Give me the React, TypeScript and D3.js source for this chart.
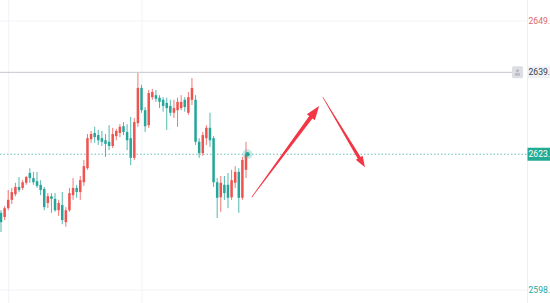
import React from "react";
import * as d3 from "d3";

const W = 550;
const H = 303;

// OHLC candles
const opens = [
  2612.5, 2611.7, 2613.4, 2615.0, 2616.1, 2617.5, 2617.3, 2618.3, 2620.2, 2619.2,
  2618.6, 2617.9, 2617.1, 2614.4, 2615.7, 2615.2, 2613.0, 2614.0, 2610.7, 2613.0,
  2615.9, 2617.3, 2616.5, 2618.4, 2621.1, 2626.7, 2627.9, 2627.5, 2626.9, 2626.5,
  2626.2, 2625.4, 2627.3, 2627.9, 2629.2, 2628.1, 2626.9, 2623.1, 2629.8, 2636.6,
  2632.3, 2629.4, 2634.8, 2635.2, 2634.7, 2634.3, 2633.7, 2633.1, 2631.8, 2632.3,
  2632.7, 2634.3, 2631.8, 2634.3, 2634.3, 2626.2, 2624.0, 2626.9, 2628.9, 2626.9,
  2618.4, 2615.5, 2617.9, 2617.9, 2615.5, 2618.3, 2620.4, 2615.4, 2620.8,
];
const highs = [
  2613.0, 2613.8, 2616.9, 2617.3, 2618.3, 2619.4, 2618.8, 2619.6, 2621.1, 2620.4,
  2620.4, 2618.8, 2617.5, 2616.3, 2616.3, 2616.3, 2615.0, 2616.5, 2613.6, 2617.3,
  2619.2, 2617.9, 2619.6, 2622.7, 2627.7, 2628.3, 2629.1, 2628.5, 2628.3, 2627.7,
  2629.4, 2628.9, 2628.7, 2629.6, 2630.0, 2629.6, 2631.0, 2630.8, 2639.5, 2637.2,
  2632.9, 2636.2, 2636.4, 2636.2, 2635.2, 2634.8, 2634.7, 2634.3, 2634.3, 2634.7,
  2635.2, 2634.8, 2635.8, 2638.5, 2635.2, 2626.9, 2628.1, 2629.4, 2631.8, 2627.3,
  2619.2, 2619.6, 2619.6, 2620.2, 2620.8, 2621.5, 2621.1, 2623.3, 2626.2,
];
const lows = [
  2608.8, 2611.1, 2613.0, 2614.2, 2615.7, 2616.5, 2616.9, 2617.9, 2618.3, 2617.9,
  2617.3, 2615.9, 2613.0, 2613.4, 2612.5, 2612.7, 2611.9, 2610.3, 2609.8, 2612.7,
  2615.0, 2615.4, 2615.0, 2617.7, 2620.8, 2626.0, 2626.0, 2625.6, 2625.4, 2623.3,
  2624.6, 2625.0, 2626.5, 2627.1, 2627.5, 2624.6, 2621.7, 2622.7, 2629.1, 2631.8,
  2628.1, 2628.9, 2634.3, 2633.9, 2632.7, 2632.0, 2628.5, 2631.2, 2630.8, 2629.1,
  2632.3, 2632.0, 2631.4, 2633.3, 2625.6, 2623.1, 2623.5, 2625.6, 2625.2, 2617.5,
  2611.5, 2612.7, 2615.0, 2613.4, 2615.0, 2617.3, 2612.5, 2615.0, 2619.2,
];
const closes = [
  2610.7, 2613.4, 2615.0, 2616.5, 2617.5, 2616.9, 2618.4, 2619.4, 2619.2, 2618.4,
  2617.7, 2616.9, 2613.6, 2615.7, 2615.2, 2613.0, 2614.4, 2611.1, 2613.0, 2616.3,
  2617.3, 2616.5, 2618.8, 2621.5, 2626.9, 2627.7, 2627.1, 2626.5, 2626.2, 2625.8,
  2625.4, 2627.7, 2628.3, 2629.1, 2628.1, 2626.5, 2623.1, 2630.0, 2636.6, 2632.3,
  2629.2, 2635.6, 2635.8, 2634.5, 2633.9, 2633.1, 2632.7, 2631.8, 2632.7, 2633.9,
  2633.9, 2632.9, 2634.8, 2636.6, 2626.2, 2624.0, 2627.5, 2628.9, 2626.5, 2618.4,
  2615.4, 2618.3, 2616.3, 2615.4, 2618.8, 2620.4, 2615.4, 2622.7, 2623.8,
];

// price axis labels
const axisValues = [2649.5, 2597.6];
const axisLabels = ["2649.", "2598."];
const horizLineValue = 2639.6;
const horizLineLabel = "2639.";
const lastPriceLabel = "2623.";
const timeGridIdx = [2, 39];

// arrows in (candle index, price) space
const arrowsFrom = [
  [69.6, 2615.5],
  [89.3, 2634.8],
];
const arrowsTo = [
  [88.3, 2633.1],
  [101.0, 2621.3],
];

const UP = "#ef5350";
const DOWN = "#26a69a";
const ARROW = "#f23645";

export default function App() {
  const n = opens.length;
  const x = d3.scaleLinear().domain([0, n - 1]).range([1, 246]);
  const y = d3.scaleLinear().domain([2598.0, 2649.5]).range([288, 21]);
  const bodyW = 2.5;
  const axisX = 527;
  const fs = 8.6;
  const tx = 528.5;

  const arrowPoly = (i: number, headLen: number, headHalf: number, w0: number, w1: number) => {
    const x0 = x(arrowsFrom[i][0]);
    const y0 = y(arrowsFrom[i][1]);
    const x1 = x(arrowsTo[i][0]);
    const y1 = y(arrowsTo[i][1]);
    const dx = x1 - x0;
    const dy = y1 - y0;
    const L = Math.hypot(dx, dy);
    const ux = dx / L;
    const uy = dy / L;
    const px = -uy;
    const py = ux;
    const bx = x1 - ux * headLen;
    const by = y1 - uy * headLen;
    const pts = [
      [x0 + px * w0, y0 + py * w0],
      [bx + px * w1, by + py * w1],
      [bx + px * headHalf, by + py * headHalf],
      [x1, y1],
      [bx - px * headHalf, by - py * headHalf],
      [bx - px * w1, by - py * w1],
      [x0 - px * w0, y0 - py * w0],
    ];
    return pts.map((p) => p.join(",")).join(" ");
  };

  const lastClose = closes[n - 1];
  const lastY = y(lastClose);
  const hY = y(horizLineValue);

  return (
    <svg
      width={W}
      height={H}
      style={{ position: "absolute", left: 0, top: 0, background: "#ffffff" }}
      fontFamily="Roboto, 'Noto Sans', sans-serif"
    >
      <rect x={0} y={0} width={W} height={H} fill="#ffffff" />
      {axisValues.map((v, i) => (
        <line key={"hg" + i} x1={0} x2={axisX} y1={y(v)} y2={y(v)} stroke="#f2f3f6" strokeWidth={1} />
      ))}
      {timeGridIdx.map((t, i) => (
        <line key={"vg" + i} x1={x(t) + 0.5} x2={x(t) + 0.5} y1={0} y2={H} stroke="#f2f3f6" strokeWidth={1} />
      ))}
      <line x1={axisX + 0.5} x2={axisX + 0.5} y1={0} y2={H} stroke="#eceef2" strokeWidth={1} />

      <line x1={0} x2={512} y1={hY} y2={hY} stroke="#c4c7ce" strokeWidth={1} />
      <rect x={512} y={hY - 6} width={11} height={12} rx={1.5} fill="#dcdee3" />
      <circle cx={517.5} cy={hY - 1.5} r={1.6} fill="#b8bbc3" />
      <rect x={515} y={hY + 0.8} width={5} height={2.5} fill="#b8bbc3" />

      <line
        x1={0}
        x2={axisX}
        y1={lastY}
        y2={lastY}
        stroke="#26a69a"
        strokeOpacity={0.7}
        strokeWidth={1}
        strokeDasharray="1.5,2"
      />

      {opens.map((o, i) => {
        const c = closes[i];
        const col = c >= o ? UP : DOWN;
        const cx = x(i);
        const top = y(Math.max(o, c));
        const bot = y(Math.min(o, c));
        return (
          <g key={"c" + i}>
            <line x1={cx} x2={cx} y1={y(highs[i])} y2={y(lows[i])} stroke={col} strokeWidth={0.8} />
            <rect x={cx - bodyW / 2} y={top} width={bodyW} height={Math.max(1, bot - top)} fill={col} />
          </g>
        );
      })}

      <circle cx={x(n - 1) + 1.5} cy={lastY} r={5} fill="#26a69a" opacity={0.25} />
      <circle cx={x(n - 1) + 1.5} cy={lastY} r={2.2} fill="#26a69a" />

      <polygon points={arrowPoly(0, 14, 5, 0.3, 2)} fill={ARROW} />
      <polygon points={arrowPoly(1, 11, 4, 0.3, 1.7)} fill={ARROW} />

      <text x={tx} y={y(axisValues[0])} dy="0.35em" fontSize={fs} fill="#e06666">
        {axisLabels[0]}
      </text>
      <text x={tx} y={y(axisValues[1])} dy="0.35em" fontSize={fs} fill="#26a69a">
        {axisLabels[1]}
      </text>
      <rect x={527.5} y={hY - 6} width={22.5} height={12} fill="#f0f1f4" />
      <text x={tx} y={hY} dy="0.35em" fontSize={fs} fill="#3a3e4a">
        {horizLineLabel}
      </text>
      <rect x={527.5} y={lastY - 6.5} width={22.5} height={13} fill="#22ab94" />
      <text x={tx} y={lastY} dy="0.35em" fontSize={fs} fill="#ffffff">
        {lastPriceLabel}
      </text>
    </svg>
  );
}
